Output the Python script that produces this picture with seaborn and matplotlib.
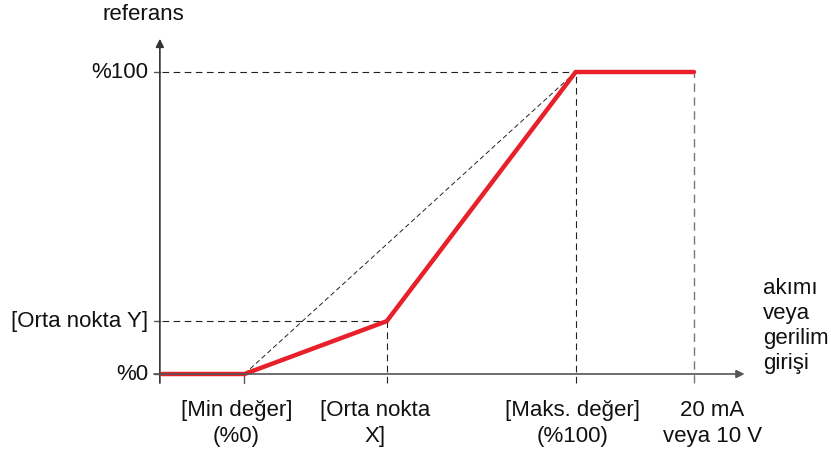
import matplotlib
matplotlib.use("Agg")
import matplotlib.pyplot as plt
import seaborn as sns
import pandas as pd

sns.set_theme(style="white")
plt.rcParams["font.family"] = ["Liberation Sans", "DejaVu Sans"]

# Input signal breakpoints (mA) and reference output (%)
x_min = 3.1        # [Min değer]
x_mid = 8.45       # [Orta nokta X]
x_max = 15.55      # [Maks. değer]
x_full = 20.0      # 20 mA / 10 V
y_mid = 17.5       # [Orta nokta Y]
y_full = 100.0

curve_x = [0.0, x_min, x_mid, x_max, x_full]
curve_y = [0.0, 0.0, y_mid, y_full, y_full]

y_tick_labels = ["%0", "[Orta nokta Y]", "%100"]
x_tick_labels = ["[Min değer]\n(%0)", "[Orta nokta\nX]", "[Maks. değer]\n(%100)", "20 mA\nveya 10 V"]

W, H = 831, 457
fig = plt.figure(figsize=(W / 100, H / 100), dpi=100)
ax = fig.add_axes([0, 0, 1, 1])

# pixel-based layout: origin at (162, 374), 26.6 px per mA, 3.02 px per %
ox, oy = 162, 374
sx, sy = 26.6, 3.02
ax.set_xlim(-ox / sx, (W - ox) / sx)
ax.set_ylim(-(H - oy) / sy, oy / sy)
ax.axis("off")

axis_col = "#555555"
dash_kw = dict(color="#222222", lw=0.8, ls=(0, (6, 4)))

# reference guides
ax.plot([x_min, x_max], [0, y_full], color="#222222", lw=0.7, ls=(0, (5, 3)))
ax.plot([0, x_max], [y_full, y_full], **dash_kw)
ax.plot([0, x_mid], [y_mid, y_mid], **dash_kw)
ax.plot([x_mid, x_mid], [-3, y_mid], **dash_kw)
ax.plot([x_max, x_max], [-3, y_full], **dash_kw)
ax.plot([x_full, x_full], [-3, y_full], color="#777777", lw=1.0, ls=(0, (6, 4)))
ax.plot([x_min, x_min], [-3, 0], color=axis_col, lw=1.0)

# axes with arrows
ax.annotate("", xy=(-0.08, 111), xytext=(-0.08, -3),
            arrowprops=dict(arrowstyle="-|>", color="#333333", lw=1.2,
                            mutation_scale=12, shrinkA=0, shrinkB=0))
ax.annotate("", xy=(21.9, 0), xytext=(-0.3, 0),
            arrowprops=dict(arrowstyle="-|>", color=axis_col, lw=1.2,
                            mutation_scale=12, shrinkA=0, shrinkB=0))
for yv in [0, y_mid, y_full]:
    ax.plot([-0.3, -0.08], [yv, yv], color=axis_col, lw=1.0)

# transfer curve
df = pd.DataFrame({"x": curve_x, "y": curve_y})
sns.lineplot(data=df, x="x", y="y", ax=ax, color="#e8202a", lw=3.2,
             sort=False, estimator=None, legend=False)
ax.set_xlabel("")
ax.set_ylabel("")

fs = 16
# y labels
for yv, lab in zip([0, y_mid, y_full], y_tick_labels):
    ax.text(-0.52, yv, lab, ha="right", va="center", fontsize=fs, color="#111111")

# x labels
for xv, lab in zip([x_min - 0.3, x_mid - 0.45, x_max - 0.1, x_full + 0.7], x_tick_labels):
    ax.text(xv, -8.5, lab, ha="center", va="top", fontsize=fs, color="#111111",
            linespacing=1.35, multialignment="center")

ax.text(-0.7, 119, "referans", ha="center", va="center", fontsize=fs, color="#111111")
ax.text(22.58, 15.9, "akımı\nveya\ngerilim\ngirişi", ha="left", va="center",
        fontsize=fs, color="#111111", linespacing=1.27)

fig.savefig("out.png", dpi=100)
